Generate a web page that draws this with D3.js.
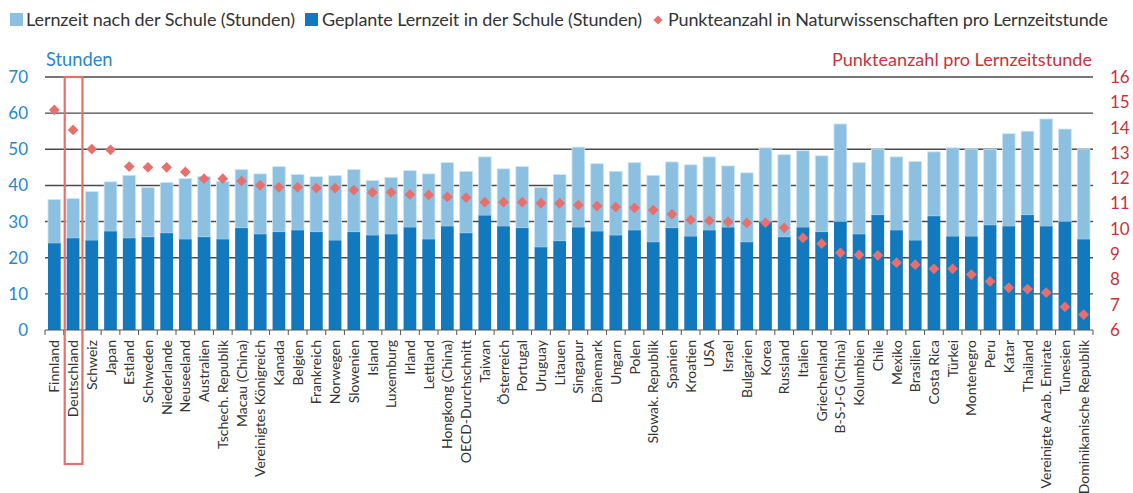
<!DOCTYPE html>
<html>
<head>
<meta charset="utf-8">
<script src="https://cdn.jsdelivr.net/npm/d3@7"></script>
<style>
  body { margin: 0; background: #fff; }
  svg { font-family: Lato, "Noto Sans", sans-serif; }
</style>
</head>
<body>
<div id="chart"></div>
<script>
// country names, in chart order
const countries = ["Finnland", "Deutschland", "Schweiz", "Japan", "Estland", "Schweden", "Niederlande",
  "Neuseeland", "Australien", "Tschech. Republik", "Macau (China)", "Vereinigtes Königreich", "Kanada",
  "Belgien", "Frankreich", "Norwegen", "Slowenien", "Island", "Luxemburg", "Irland", "Lettland",
  "Hongkong (China)", "OECD-Durchschnitt", "Taiwan", "Österreich", "Portugal", "Uruguay", "Litauen",
  "Singapur", "Dänemark", "Ungarn", "Polen", "Slowak. Republik", "Spanien", "Kroatien", "USA", "Israel",
  "Bulgarien", "Korea", "Russland", "Italien", "Griechenland", "B-S-J-G (China)", "Kolumbien", "Chile",
  "Mexiko", "Brasilien", "Costa Rica", "Türkei", "Montenegro", "Peru", "Katar", "Thailand",
  "Vereinigte Arab. Emirate", "Tunesien", "Dominikanische Republik"];

// geplante Lernzeit in der Schule (Stunden)
const schoolHours = [24.0, 25.4, 24.8, 27.3, 25.4, 25.7, 26.8, 25.1, 25.7, 25.1, 28.2, 26.5, 27.1,
  27.6, 27.1, 24.8, 27.1, 26.2, 26.5, 28.4, 25.1, 28.7, 26.8, 31.7, 28.7, 28.2, 22.9, 24.6,
  28.4, 27.3, 26.2, 27.6, 24.3, 28.2, 25.9, 27.6, 28.4, 24.3, 30.0, 25.7, 28.4, 27.1, 30.0,
  26.5, 31.8, 27.6, 24.8, 31.5, 25.9, 25.9, 29.0, 28.7, 31.8, 28.7, 30.0, 25.1];

// Lernzeit nach der Schule (Stunden)
const afterHours = [12.1, 11.0, 13.5, 13.7, 17.4, 13.7, 14.0, 16.8, 16.8, 16.0, 16.2, 16.7, 18.1,
  15.4, 15.3, 17.9, 17.3, 15.2, 15.7, 15.7, 18.1, 17.6, 17.1, 16.2, 15.9, 17.0, 16.5, 18.4,
  22.2, 18.7, 17.7, 18.7, 18.5, 18.3, 19.8, 20.3, 17.0, 19.2, 20.4, 22.8, 21.2, 21.1, 27.0,
  19.8, 18.3, 20.3, 21.8, 17.8, 24.5, 24.2, 21.0, 25.6, 23.2, 29.7, 25.6, 25.0];

// Punkteanzahl in Naturwissenschaften pro Lernzeitstunde
const pointsPerHour = [14.70, 13.91, 13.15, 13.12, 12.46, 12.43, 12.43, 12.25, 11.98, 11.98, 11.89,
  11.72, 11.64, 11.64, 11.61, 11.61, 11.53, 11.44, 11.44, 11.36, 11.34, 11.26, 11.23, 11.05,
  11.05, 11.05, 11.01, 11.01, 10.94, 10.90, 10.86, 10.83, 10.74, 10.58, 10.35, 10.32, 10.27,
  10.23, 10.24, 10.04, 9.64, 9.41, 9.05, 8.97, 8.95, 8.66, 8.58, 8.42, 8.42, 8.19, 7.92,
  7.67, 7.62, 7.48, 6.91, 6.61];

const leftTicks = [0, 10, 20, 30, 40, 50, 60, 70];
const rightTicks = [6, 7, 8, 9, 10, 11, 12, 13, 14, 15, 16];
const highlight = "Deutschland";

const W = 1133, H = 493;
const margin = { top: 77, right: 40, bottom: 163, left: 45 };
const width = W - margin.left - margin.right;
const height = H - margin.top - margin.bottom;

const cDark = "#1279bf", cLight = "#8bc0e0", cDot = "#e8706c";
const cBlue = "#2a86c8", cRed = "#c8323c", cText = "#333";

const svg = d3.select("#chart").append("svg")
  .attr("width", W).attr("height", H);
const g = svg.append("g")
  .attr("transform", "translate(" + margin.left + "," + margin.top + ")");

const x = d3.scaleBand().domain(countries).range([0, width])
  .paddingInner(0.32).paddingOuter(0.16);
const y = d3.scaleLinear().domain([0, 70]).range([height, 0]);
const y2 = d3.scaleLinear().domain([6, 16]).range([height, 0]);

// gridlines
g.append("g").selectAll("line")
  .data(leftTicks.filter(d => d > 0))
  .join("line")
  .attr("x1", 0).attr("x2", width)
  .attr("y1", d => y(d)).attr("y2", d => y(d))
  .attr("stroke", "#4a4a4a").attr("stroke-width", 1.4);

// stacked bars
const rows = countries.map((c, i) => ({ c, school: schoolHours[i], after: afterHours[i], pts: pointsPerHour[i] }));

g.append("g").selectAll("rect")
  .data(rows).join("rect")
  .attr("x", d => x(d.c))
  .attr("y", d => y(d.school + d.after))
  .attr("width", x.bandwidth())
  .attr("height", d => y(d.school) - y(d.school + d.after))
  .attr("fill", cLight)
  .attr("stroke", "#cfe5f3").attr("stroke-width", 0.8);

g.append("g").selectAll("rect")
  .data(rows).join("rect")
  .attr("x", d => x(d.c))
  .attr("y", d => y(d.school))
  .attr("width", x.bandwidth())
  .attr("height", d => height - y(d.school))
  .attr("fill", cDark);

// diamonds on right axis
g.append("g").selectAll("path")
  .data(rows).join("path")
  .attr("d", d3.symbol().type(d3.symbolSquare).size(58))
  .attr("transform", d => "translate(" + (x(d.c) + x.bandwidth() / 2) + "," + y2(d.pts) + ") rotate(45)")
  .attr("fill", cDot);

// x axis line + ticks at band boundaries
const step = x.step();
const bounds = countries.map(c => x(c) - step * 0.16).concat([width]);
g.append("line")
  .attr("x1", 0).attr("x2", width).attr("y1", height).attr("y2", height)
  .attr("stroke", "#555").attr("stroke-width", 1);
g.append("g").selectAll("line")
  .data(bounds).join("line")
  .attr("x1", d => d).attr("x2", d => d)
  .attr("y1", height).attr("y2", height + 5)
  .attr("stroke", "#555");

// category labels
const xAxis = g.append("g")
  .attr("transform", "translate(0," + height + ")")
  .call(d3.axisBottom(x).tickSize(0).tickPadding(0));
xAxis.select(".domain").remove();
xAxis.selectAll("text")
  .attr("transform", "rotate(-90)")
  .attr("x", -10).attr("y", 0).attr("dy", "0.36em")
  .style("text-anchor", "end")
  .style("font-size", "14px")
  .style("font-family", "Lato, 'Noto Sans', sans-serif")
  .attr("fill", cText);

// left axis
const yAxis = g.append("g")
  .call(d3.axisLeft(y).tickValues(leftTicks).tickSize(0).tickPadding(17));
yAxis.select(".domain").remove();
yAxis.selectAll("text")
  .style("font-size", "17px")
  .style("font-family", "Lato, 'Noto Sans', sans-serif")
  .attr("fill", cBlue);

// right axis
const y2Axis = g.append("g")
  .attr("transform", "translate(" + width + ",0)")
  .call(d3.axisRight(y2).tickValues(rightTicks).tickSize(0).tickPadding(17));
y2Axis.select(".domain").remove();
y2Axis.selectAll("text")
  .style("font-size", "17px")
  .style("font-family", "Lato, 'Noto Sans', sans-serif")
  .attr("fill", cRed);

// axis titles
svg.append("text").attr("x", 46).attr("y", 66)
  .attr("fill", cBlue).style("font-size", "18.3px")
  .text("Stunden");
svg.append("text").attr("x", 1092).attr("y", 66)
  .attr("text-anchor", "end")
  .attr("fill", cRed).style("font-size", "18.1px")
  .text("Punkteanzahl pro Lernzeitstunde");

// highlight box
const hx = x(highlight) - step * 0.16;
g.append("rect")
  .attr("x", hx + 1).attr("y", 0)
  .attr("width", step - 1).attr("height", 464 - margin.top)
  .attr("fill", "none").attr("stroke", cDot).attr("stroke-width", 2.2);

// legend
const legend = svg.append("g").style("font-size", "18px").attr("fill", cText);
legend.append("rect").attr("x", 10).attr("y", 13).attr("width", 13).attr("height", 13).attr("fill", cLight);
legend.append("text").attr("x", 26).attr("y", 26)
  .attr("textLength", 269).attr("lengthAdjust", "spacing")
  .text("Lernzeit nach der Schule (Stunden)");
legend.append("rect").attr("x", 305).attr("y", 13).attr("width", 13).attr("height", 13).attr("fill", cDark);
legend.append("text").attr("x", 322).attr("y", 26)
  .attr("textLength", 320).attr("lengthAdjust", "spacing")
  .text("Geplante Lernzeit in der Schule (Stunden)");
legend.append("path")
  .attr("d", d3.symbol().type(d3.symbolSquare).size(40))
  .attr("transform", "translate(658,20) rotate(45)")
  .attr("fill", cDot);
legend.append("text").attr("x", 668).attr("y", 26)
  .attr("textLength", 440).attr("lengthAdjust", "spacing")
  .text("Punkteanzahl in Naturwissenschaften pro Lernzeitstunde");
</script>
</body>
</html>
